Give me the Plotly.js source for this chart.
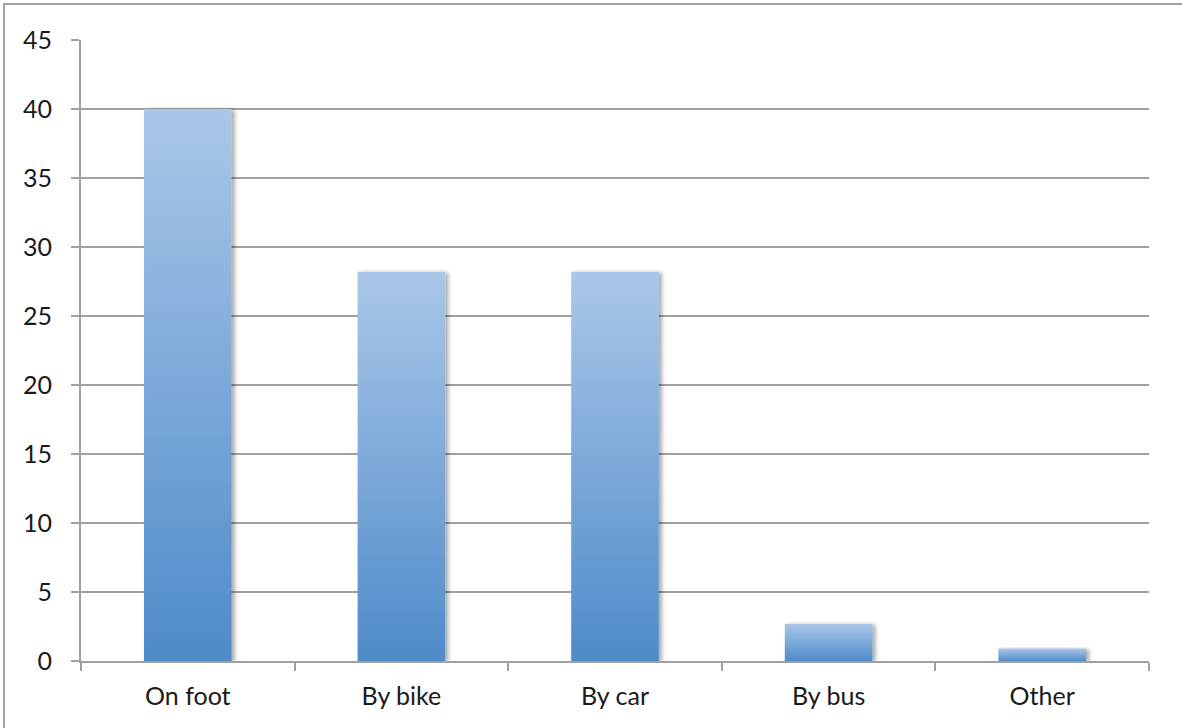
<!DOCTYPE html>
<html>
<head>
<meta charset="utf-8">
<script src="https://cdn.plot.ly/plotly-3.0.1.min.js"></script>
<style>
  html, body { margin: 0; padding: 0; background: #fff; overflow: hidden; }
  #frame { position: absolute; left: 3px; top: 3px; width: 1200px; height: 740px;
           border-left: 2px solid #a3a3a3; border-top: 2px solid #a3a3a3; }
  #chart { position: absolute; left: 0; top: 0; width: 1182px; height: 728px; }
</style>
</head>
<body>
<div id="frame"></div>
<div id="chart"></div>
<script>
const categories = ["On foot", "By bike", "By car", "By bus", "Other"];
const values = [40, 28.2, 28.2, 2.7, 0.9];
const yTicks = [0, 5, 10, 15, 20, 25, 30, 35, 40, 45];

const trace = {
  type: "bar",
  x: categories,
  y: values,
  width: 0.41,
  marker: { color: "#7aa6da", line: { width: 0 } },
  hoverinfo: "x+y"
};

const font = { family: "Lato, 'Open Sans', sans-serif", size: 25, color: "#1a1a1a" };

const layout = {
  width: 1182,
  height: 728,
  margin: { l: 81, r: 33, t: 39.5, b: 67 },
  paper_bgcolor: "rgba(0,0,0,0)",
  plot_bgcolor: "rgba(0,0,0,0)",
  showlegend: false,
  font: font,
  bargap: 0.59,
  xaxis: {
    type: "category",
    showline: true,
    linecolor: "#a0a0a0",
    linewidth: 2,
    ticks: "outside",
    tickson: "boundaries",
    ticklen: 8,
    tickwidth: 2,
    tickcolor: "#a0a0a0",
    showgrid: false,
    zeroline: false,
    ticklabelstandoff: 12,
    tickfont: font
  },
  yaxis: {
    range: [0, 45],
    tickvals: yTicks,
    ticktext: yTicks.map(String),
    showline: true,
    linecolor: "#a0a0a0",
    linewidth: 2,
    ticks: "outside",
    ticklen: 8,
    tickwidth: 2,
    tickcolor: "#a0a0a0",
    showgrid: true,
    gridcolor: "#a0a0a0",
    gridwidth: 1.5,
    zeroline: false,
    ticklabelstandoff: 14,
    tickfont: font
  }
};

function applyGradient(gd) {
  const svg = gd.querySelector("svg.main-svg");
  if (!svg) return;
  const NS = "http://www.w3.org/2000/svg";
  let defs = svg.querySelector("defs");
  if (!defs) { defs = document.createElementNS(NS, "defs"); svg.insertBefore(defs, svg.firstChild); }
  if (!svg.querySelector("#barGrad")) {
    const g = document.createElementNS(NS, "linearGradient");
    g.setAttribute("id", "barGrad");
    g.setAttribute("x1", "0"); g.setAttribute("y1", "0");
    g.setAttribute("x2", "0"); g.setAttribute("y2", "1");
    const s1 = document.createElementNS(NS, "stop");
    s1.setAttribute("offset", "0"); s1.setAttribute("stop-color", "#aac7e9");
    const s2 = document.createElementNS(NS, "stop");
    s2.setAttribute("offset", "1"); s2.setAttribute("stop-color", "#4e8bc9");
    g.appendChild(s1); g.appendChild(s2);
    defs.appendChild(g);
    const f = document.createElementNS(NS, "filter");
    f.setAttribute("id", "barShadow");
    f.setAttribute("x", "-20%"); f.setAttribute("y", "-5%");
    f.setAttribute("width", "140%"); f.setAttribute("height", "110%");
    const ds = document.createElementNS(NS, "feDropShadow");
    ds.setAttribute("dx", "3"); ds.setAttribute("dy", "1");
    ds.setAttribute("stdDeviation", "2");
    ds.setAttribute("flood-color", "#000"); ds.setAttribute("flood-opacity", "0.35");
    f.appendChild(ds);
    defs.appendChild(f);
  }
  gd.querySelectorAll(".bars .point path").forEach(p => {
    p.style.fill = "url(#barGrad)";
    p.style.filter = "url(#barShadow)";
  });
}

const gd = document.getElementById("chart");
Plotly.newPlot(gd, [trace], layout, { displayModeBar: false, staticPlot: true }).then(() => {
  applyGradient(gd);
  gd.on("plotly_afterplot", () => applyGradient(gd));
});
</script>
</body>
</html>
